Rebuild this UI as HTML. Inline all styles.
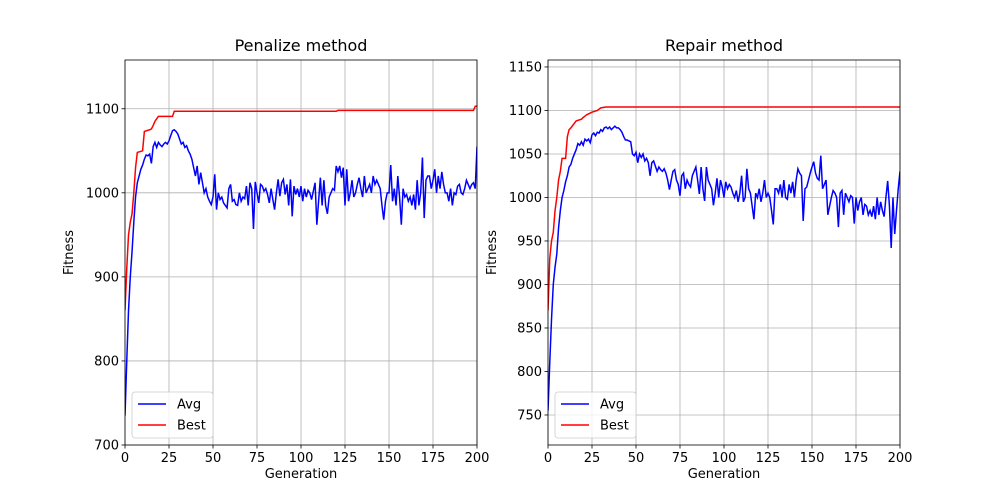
<!DOCTYPE html>
<html><head><meta charset="utf-8"><style>
body{margin:0;background:#fff}
svg{display:block;font-family:"DejaVu Sans","Liberation Sans",sans-serif}
</style></head><body>
<svg id="fig" width="1000" height="500" viewBox="0 0 1000 500"></svg>
<script>
const leftAvg=[735,800,860,900,930,965,995,1012,1020,1028,
1033,1040,1045,1044,1046,1035,1055,1060,1054,1060,
1057,1055,1058,1060,1058,1062,1068,1074,1075,1073,
1070,1064,1058,1060,1054,1056,1050,1046,1040,1030,
1020,1032,1010,1024,1012,1000,1005,995,990,986,
995,1022,980,1000,992,995,988,985,982,1005,
1010,990,992,986,985,1000,990,995,993,1008,
985,1012,1005,957,1013,1000,988,1010,1008,1002,
1005,998,988,1005,992,980,1000,1016,996,1012,
1016,998,1010,985,1016,972,1008,998,1005,995,
1008,990,1005,995,1003,1000,992,1002,1012,962,
990,1018,985,1015,985,975,995,1000,1005,1003,
1032,1025,1032,1018,1030,985,1028,990,1000,1015,
995,1000,1010,1018,1005,995,1020,1000,1005,1010,
1000,1020,1010,1015,1010,1005,985,968,990,1000,
1000,1033,990,1005,985,1020,995,962,1005,995,
998,990,995,985,998,980,1015,985,1000,1042,
970,1015,1020,1020,1005,1015,1028,1000,1020,1005,
1025,1010,1000,1000,990,1005,985,1000,998,1008,
1010,1000,998,1005,1015,1010,1005,1010,1012,1005,1055];
const leftBestGens=[0,1,2,3,4,5,6,7,10,11,14,15,16,17,18,19,25,27,28,120,121,198,199,200];
const leftBestVals=[860,910,950,965,975,1000,1030,1048,1050,1073,1075,1076,1080,1085,1088,1091,1091,1091,1097,1097,1098,1098,1103,1103];
const rightAvg=[755,810,860,900,920,935,965,985,1000,1008,
1018,1025,1035,1038,1045,1050,1055,1062,1060,1064,
1060,1067,1065,1067,1063,1072,1074,1071,1075,1074,
1078,1076,1080,1081,1079,1081,1078,1080,1082,1080,
1080,1078,1075,1070,1066,1066,1065,1064,1050,1048,
1052,1040,1050,1046,1050,1042,1045,1040,1025,1040,
1042,1036,1030,1035,1032,1030,1033,1028,1020,1009,
1020,1030,1032,1020,1015,1002,1025,1028,1010,1020,
1015,1012,1025,1030,1035,1020,1004,1035,1010,996,
1035,1020,1015,1010,991,1005,1022,1000,1020,1012,
1000,1018,1010,1015,1012,1005,1000,1008,995,1005,
1025,995,1000,1033,1010,1005,990,975,1005,1000,
1010,995,1005,1020,1000,1005,1000,985,969,1010,
1010,1005,1015,1000,1020,1000,998,1015,1005,1018,
1000,1020,1033,1028,1025,973,1010,1012,1020,1028,
1035,1041,1028,1022,1020,1048,1010,1015,1020,980,
990,1000,1008,1005,1000,966,1005,1008,980,1005,
1000,995,1002,1000,970,1000,985,995,1000,980,
992,990,980,985,978,990,975,1000,980,995,
985,978,1000,1019,990,942,1000,958,985,1010,1030];
const rightBestGens=[0,1,2,3,4,5,6,7,8,10,11,12,13,16,19,20,22,25,28,30,33,200];
const rightBestVals=[870,930,950,960,985,1000,1020,1030,1045,1045,1070,1078,1080,1088,1090,1092,1095,1098,1100,1103,1104,1104];
const xTicks=[0,25,50,75,100,125,150,175,200];
const leftYTicks=[700,800,900,1000,1100];
const rightYTicks=[750,800,850,900,950,1000,1050,1100,1150];

const NS="http://www.w3.org/2000/svg";
const fig=document.getElementById('fig');
function mk(tag,attrs,parent){const e=document.createElementNS(NS,tag);for(const k in attrs)e.setAttribute(k,attrs[k]);(parent||fig).appendChild(e);return e;}

function panel(name,x0,x1,y0,y1,ymin,ymax,yTicks,avg,bGens,bVals,title){
  const g=mk('g',{});
  
  
  const sx=v=>x0+(v-0)/(200-0)*(x1-x0);
  const sy=v=>y1-(v-ymin)/(ymax-ymin)*(y1-y0);
  mk('rect',{x:x0,y:y0,width:x1-x0,height:y1-y0,fill:'#fff'},g);
  xTicks.forEach(t=>{
    const l=mk('line',{x1:sx(t),x2:sx(t),y1:y0,y2:y1,stroke:'#b0b0b0','stroke-width':0.8},g);
    
    
    mk('line',{x1:sx(t),x2:sx(t),y1:y1,y2:y1+3.5,stroke:'#000','stroke-width':0.8},g);
    const tx=mk('text',{x:sx(t),y:y1+17,'text-anchor':'middle','font-size':13,fill:'#000'},g);
    tx.textContent=t;
    
    
  });
  yTicks.forEach(t=>{
    const l=mk('line',{x1:x0,x2:x1,y1:sy(t),y2:sy(t),stroke:'#b0b0b0','stroke-width':0.8},g);
    
    
    mk('line',{x1:x0-3.5,x2:x0,y1:sy(t),y2:sy(t),stroke:'#000','stroke-width':0.8},g);
    const tx=mk('text',{x:x0-6,y:sy(t)+4.5,'text-anchor':'end','font-size':13,fill:'#000'},g);
    tx.textContent=t;
    
    
  });
  const cp=mk('clipPath',{id:'cp'+name},g);
  mk('rect',{x:x0,y:y0,width:x1-x0,height:y1-y0},cp);
  const a=mk('polyline',{points:avg.map((v,i)=>sx(i)+','+sy(v)).join(' '),fill:'none',stroke:'#0000ff','stroke-width':1.5,'clip-path':'url(#cp'+name+')'},g);
  
  
  const b=mk('polyline',{points:bGens.map((x,i)=>sx(x)+','+sy(bVals[i])).join(' '),fill:'none',stroke:'#ff0000','stroke-width':1.5,'clip-path':'url(#cp'+name+')'},g);
  
  
  mk('rect',{x:x0,y:y0,width:x1-x0,height:y1-y0,fill:'none',stroke:'#000','stroke-width':0.8},g);
  const t=mk('text',{x:(x0+x1)/2,y:y0-9,'text-anchor':'middle','font-size':16,fill:'#000'},g);
  t.textContent=title;
  
  
  const xl=mk('text',{x:(x0+x1)/2,y:y1+33,'text-anchor':'middle','font-size':13,fill:'#000'},g);
  xl.textContent='Generation';
  
  
  const yl=mk('text',{x:0,y:0,'text-anchor':'middle','font-size':13,fill:'#000',transform:`translate(${x0-52},${(y0+y1)/2}) rotate(-90)`},g);
  yl.textContent='Fitness';
  
  
  const lg=mk('g',{},g);
  
  
  mk('rect',{x:x0+7,y:y1-53,width:81,height:46,rx:3,fill:'#fff','fill-opacity':0.8,stroke:'#cccccc','stroke-width':0.8},lg);
  [['Avg','#0000ff'],['Best','#ff0000']].forEach((d,i)=>{
    const yy=y1-41+i*21;
    mk('line',{x1:x0+13,x2:x0+41,y1:yy,y2:yy,stroke:d[1],'stroke-width':1.5},lg);
    const lt=mk('text',{x:x0+52,y:yy+4.5,'font-size':13,fill:'#000'},lg);
    lt.textContent=d[0];
    
    
  });
}
panel('penalize-panel',125,477,60,445,700,1158,leftYTicks,leftAvg,leftBestGens,leftBestVals,'Penalize method');
panel('repair-panel',548,900,60,445,715.5,1158,rightYTicks,rightAvg,rightBestGens,rightBestVals,'Repair method');
</script>
</body></html>
